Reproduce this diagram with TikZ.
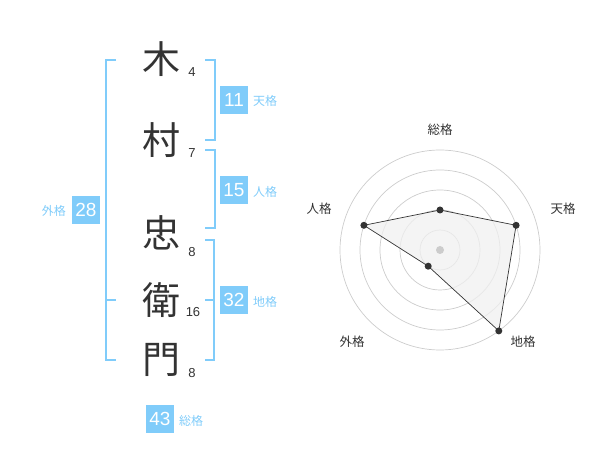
\documentclass[tikz,border=0pt]{standalone}
\usepackage{fontspec}
\setmainfont{Liberation Sans}
\newfontfamily\jp{Noto Sans CJK JP}
\definecolor{kblue}{HTML}{80CCFA}
\definecolor{ktext}{HTML}{333333}
\definecolor{kgrid}{HTML}{CCCCCC}
\definecolor{kfill}{HTML}{F0F0F0}
\begin{document}
\begin{tikzpicture}[x=1pt,y=-1pt,
  kanji/.style={font=\jp\fontsize{38}{38}\selectfont, text=ktext, inner sep=0},
  strokes/.style={font=\fontsize{13}{13}\selectfont, text=ktext, inner sep=0},
  numbox/.style={fill=kblue, text=white, minimum width=28pt, minimum height=28pt, inner sep=0, font=\fontsize{19}{19}\selectfont},
  lbl/.style={text=kblue, font=\jp\fontsize{12}{12}\selectfont, inner sep=0},
  rlbl/.style={text=ktext, font=\jp\fontsize{12.5}{12.5}\selectfont, inner sep=0},
  brk/.style={draw=kblue, line width=2pt},
  grid/.style={draw=kgrid, line width=0.7pt},
  dot/.style={circle, fill=ktext, inner sep=0, minimum size=7pt}
]
\useasboundingbox (0,0) rectangle (600,470);
% kanji
\node[kanji] (k1) at (161,59) {木};
\node[kanji] (k2) at (161,140) {村};
\node[kanji] (k3) at (161,233) {忠};
\node[kanji] (k4) at (161,300) {衛};
\node[kanji] (k5) at (161,360) {門};
% strokes
\node[strokes] (s1) at (192,72) {4};
\node[strokes] (s2) at (192,153) {7};
\node[strokes] (s3) at (192,252) {8};
\node[strokes] (s4) at (193,312) {16};
\node[strokes] (s5) at (192,373) {8};
% brackets
\draw[brk] (116,60) -- (106,60) -- (106,360) -- (116,360);
\draw[brk] (106,300) -- (116,300);
\draw[brk] (205,60) -- (215,60) -- (215,140) -- (205,140);
\draw[brk] (205,150) -- (215,150) -- (215,228) -- (205,228);
\draw[brk] (205,240) -- (214,240) -- (214,360) -- (205,360);
\draw[brk] (205,300) -- (214,300);
% boxes
\node[numbox] (b1) at (234,100) {11};
\node[lbl, anchor=west] (l1) at (253,101) {天格};
\node[numbox] (b2) at (234,190) {15};
\node[lbl, anchor=west] (l2) at (253,192) {人格};
\node[numbox] (b3) at (234,300) {32};
\node[lbl, anchor=west] (l3) at (253,302) {地格};
\node[numbox] (b4) at (86,210) {28};
\node[lbl, anchor=east] (l4) at (66,211) {外格};
\node[numbox] (b5) at (160,419) {43};
\node[lbl, anchor=west] (l5) at (179,421) {総格};
% radar
\coordinate (c) at (440,250);
\foreach \r in {20,40,60,80,100} \draw[grid] (c) circle (\r pt);
\coordinate (pS) at (440,210);
\coordinate (pT) at (516.1,225.3);
\coordinate (pC) at (498.8,330.9);
\coordinate (pG) at (428.2,266.2);
\coordinate (pJ) at (363.9,225.3);
\filldraw[fill=kfill, fill opacity=0.75, draw=ktext, line width=0.7pt] (pS) -- (pT) -- (pC) -- (pG) -- (pJ) -- cycle;
\fill[kgrid] (c) circle (4pt);
\foreach \p in {pS,pT,pC,pG,pJ} \node[dot] at (\p) {};
\node[rlbl] (rS) at (440,130) {総格};
\node[rlbl] (rT) at (563,209) {天格};
\node[rlbl] (rC) at (523,342) {地格};
\node[rlbl] (rG) at (352,342) {外格};
\node[rlbl] (rJ) at (319,209) {人格};
\end{tikzpicture}
\end{document}
